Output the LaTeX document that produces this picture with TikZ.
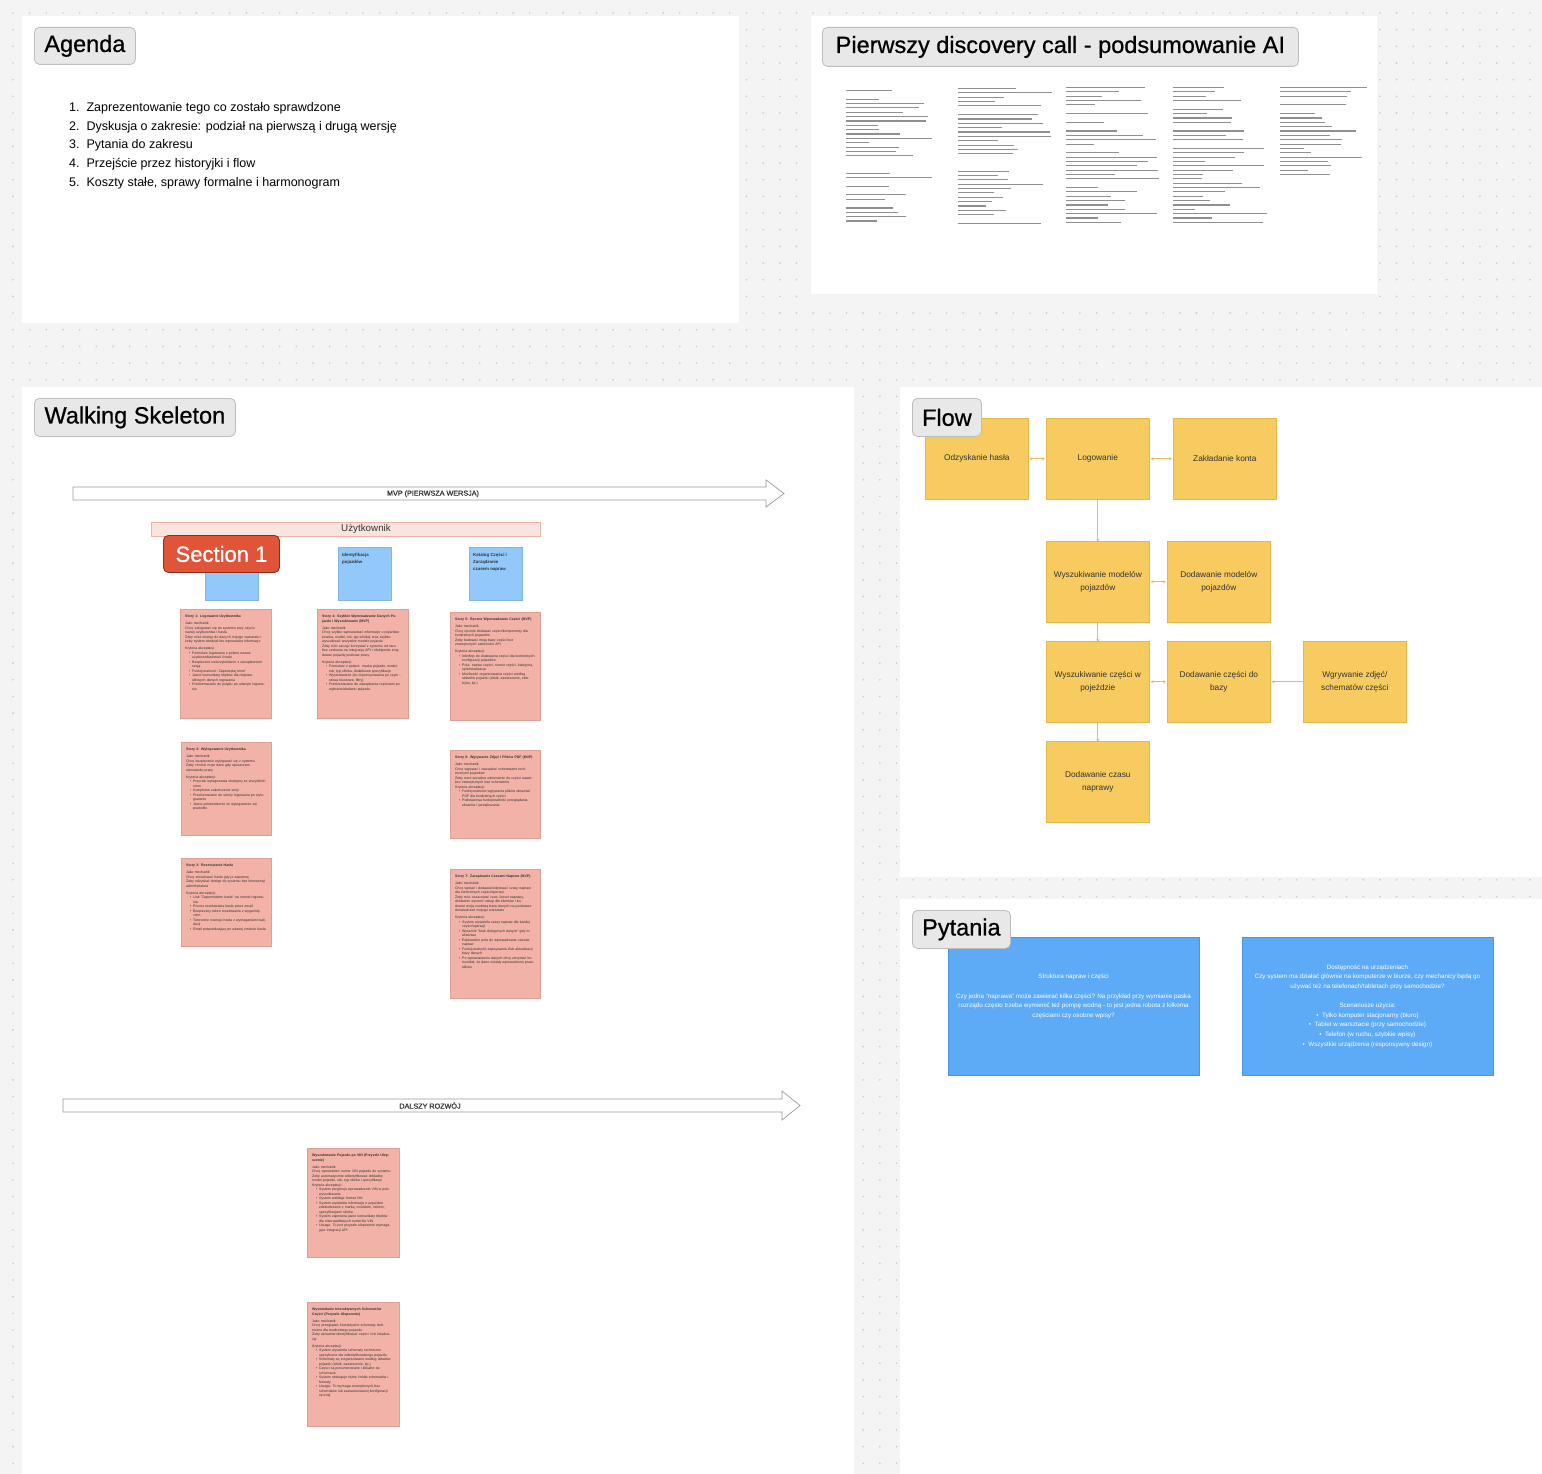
\documentclass[tikz,border=0pt]{standalone}
\usepackage{fontspec}
\setmainfont{Liberation Sans}
\newfontfamily\headfont{Liberation Sans}[FakeBold=0.7]
\usetikzlibrary{arrows.meta}
\setlength\parindent{0pt}
\definecolor{bgc}{HTML}{F4F4F4}
\definecolor{dotc}{HTML}{C8C8C8}
\definecolor{lblfill}{HTML}{E8E8E8}
\definecolor{lbldraw}{HTML}{BDBDBD}
\definecolor{pinkc}{HTML}{F3B2A7}
\definecolor{pinkbar}{HTML}{FAE4DE}
\definecolor{pinkbard}{HTML}{EFB3A5}
\definecolor{bluest}{HTML}{93C8FA}
\definecolor{secred}{HTML}{E0553A}
\definecolor{secredd}{HTML}{8B2C1C}
\definecolor{yel}{HTML}{F7CB60}
\definecolor{yeld}{HTML}{E6B74C}
\definecolor{yconn}{HTML}{E3BC62}
\definecolor{qblue}{HTML}{5DAAF6}
\definecolor{qblued}{HTML}{4A95E3}
\definecolor{arrc}{HTML}{9A9A9A}
\definecolor{discc}{HTML}{909090}
\definecolor{txt}{HTML}{333333}
\newcommand\bi[1]{{\leftskip=7pt\noindent\llap{\textbullet\hspace{1.8pt}}#1\par}}
\newcommand\stickytitle[1]{\textbf{#1}\par\vspace{2.6pt}}
\newcommand\gap{\par\vspace{2.6pt}}
\newcommand\dotsreg[4]{%
  \foreach \i in {#1,...,#2} {\foreach \j in {#3,...,#4} {
    \fill[dotc] (13+\i*16.67, 13+\j*16.67) circle[radius=0.9pt];}}}
\begin{document}
\begin{tikzpicture}[x=1pt,y=-1pt,
  lbl/.style={draw=lbldraw, fill=lblfill, rounded corners=5pt, line width=0.8pt,
    font=\headfont\fontsize{23.5}{28}\selectfont, inner sep=0pt, anchor=north west, text=black},
  agitem/.style={anchor=west, font=\fontsize{12.5}{15}\selectfont, inner sep=0pt},
  pinkbox/.style={fill=pinkc, draw=pinkc!90!black, line width=0.3pt, anchor=north west, inner sep=0pt},
  stxt/.style={anchor=north west, inner sep=0pt, text width=80pt, align=left, text=txt,
    font=\fontsize{3.5}{4.5}\selectfont},
  bluebox/.style={fill=bluest, draw=bluest!90!black, line width=0.3pt, anchor=north west, inner sep=0pt,
    minimum width=53pt, minimum height=53pt},
  btxt/.style={anchor=north west, inner sep=0pt, align=left, text=txt, font=\fontsize{4.4}{7.2}\selectfont\bfseries},
  ybox/.style={fill=yel, draw=yeld, line width=0.6pt, anchor=north west, inner sep=0pt,
    minimum width=103pt, minimum height=81pt, align=center, text=txt,
    font=\fontsize{8.3}{12.8}\selectfont},
  fconn/.style={draw=yconn, line width=0.7pt},
  qbox/.style={fill=qblue, draw=qblued, line width=0.6pt, anchor=north west, inner sep=0pt,
    minimum width=251pt, minimum height=138pt},
  qtxt/.style={anchor=north, inner sep=0pt, align=center, text=white,
    font=\fontsize{6.3}{9.6}\selectfont},
  bigarr/.style={draw=arrc, fill=white, line width=0.7pt, line join=miter},
  arrtxt/.style={inner sep=0pt, font=\headfont\fontsize{7.2}{9}\selectfont, text=txt}
]
\useasboundingbox (0,0) rectangle (1542,1474);
\fill[bgc] (0,0) rectangle (1542,1474);
% dot grid, only where the background shows
\dotsreg{0}{92}{0}{0}
\dotsreg{0}{0}{1}{88}
\dotsreg{44}{47}{1}{22}
\dotsreg{82}{92}{1}{22}
\dotsreg{48}{81}{18}{22}
\dotsreg{1}{43}{19}{22}
\dotsreg{51}{53}{23}{88}
\dotsreg{54}{92}{52}{53}
% panels
\fill[white] (22,16) rectangle (739,323);
\fill[white] (811,16) rectangle (1377,294);
\fill[white] (22,387) rectangle (854,1474);
\fill[white] (900,387) rectangle (1542,877);
\fill[white] (900,899) rectangle (1542,1474);

% ---------------- Agenda
\node[lbl, minimum width=101pt, minimum height=37pt] (agendaT) at (34,27) {Agenda};
\node[agitem] (ag1) at (69,108) {1.\ \ Zaprezentowanie tego co zostało sprawdzone};
\node[agitem] (ag2) at (69,127) {2.\ \ Dyskusja o zakresie: podział na pierwszą i drugą wersję};
\node[agitem] (ag3) at (69,145.5) {3.\ \ Pytania do zakresu};
\node[agitem] (ag4) at (69,164) {4.\ \ Przejście przez historyjki i flow};
\node[agitem] (ag5) at (69,183) {5.\ \ Koszty stałe, sprawy formalne i harmonogram};

% ---------------- Discovery
\node[lbl, minimum width=476pt, minimum height=39pt] (discT) at (822,27) {Pierwszy discovery call - podsumowanie AI};
\pgfmathsetseed{42}
\foreach \cx/\ys/\nn in {846/90/31, 958/88/32, 1066/87/32, 1173/87/32, 1280/87/21} {
  \foreach \k in {1,...,\nn} {
    \pgfmathsetmacro{\r}{rnd}
    \pgfmathsetmacro{\len}{22+72*rnd}
    \ifdim\r pt>0.13pt
      \fill[discc] (\cx,\ys+\k*4.35-4.35) rectangle ++(\len,1.1);
    \fi
  }
}

% ---------------- Walking Skeleton
\node[lbl, minimum width=201pt, minimum height=38pt] (wsT) at (34,398) {Walking Skeleton};
\path[bigarr] (73,487) -- (766,487) -- (766,480) -- (784,493.5) -- (766,507) -- (766,500) -- (73,500) -- cycle;
\node[arrtxt] (mvp) at (433,493.8) {MVP (PIERWSZA WERSJA)};
\node[fill=pinkbar, draw=pinkbard, line width=0.6pt, anchor=north west, minimum width=389pt, minimum height=14pt,
  inner sep=0pt] (uzyt) at (151,522) {};
\node[inner sep=0pt, font=\fontsize{9.8}{11}\selectfont, text=txt] (uzytt) at (366,529) {Użytkownik};

\node[bluebox] (b1) at (205,547) {};
\node[btxt] (b1t) at (209,553) {Zarządzanie\\kontami\\użytkowników};
\node[bluebox] (b2) at (338,547) {};
\node[btxt] (b2t) at (342,553) {Identyfikacja\\pojazdów};
\node[bluebox] (b3) at (469,547) {};
\node[btxt] (b3t) at (473,553) {Katalog Części i\\Zarządzanie\\czasem napraw};

\node[fill=secred, draw=secredd, line width=0.9pt, rounded corners=5pt, anchor=north west,
  minimum width=116pt, minimum height=37pt, inner sep=0pt, text=white,
  font=\headfont\fontsize{22}{26}\selectfont] (sec1) at (163,535) {Section 1};

% Story 1
\node[pinkbox, minimum width=91pt, minimum height=109pt] (s1) at (180,609) {};
\node[stxt] (s1t) at (185,615) {\stickytitle{Story 1: Logowanie Użytkownika}
Jako mechanik\par Chcę zalogować się do systemu przy użyciu nazwy użytkownika i hasła\par
Żeby mieć dostęp do danych mojego warsztatu i żeby system wiedział kto wprowadza informacje\gap
Kryteria akceptacji:\par
\bi{Formularz logowania z polami nazwa użytkownika/email i hasło}
\bi{Bezpieczne uwierzytelnianie z zarządzaniem sesją}
\bi{Funkcjonalność "Zapamiętaj mnie"}
\bi{Jasne komunikaty błędów dla nieprawidłowych danych logowania}
\bi{Przekierowanie do pulpitu po udanym logowaniu}};
% Story 4
\node[pinkbox, minimum width=91pt, minimum height=109pt] (s4) at (317,609) {};
\node[stxt] (s4t) at (322,615) {\stickytitle{Story 4: Szybkie Wprowadzanie Danych Pojazdu i Wyszukiwanie (MVP)}
Jako mechanik\par Chcę szybko wprowadzać informacje o pojeździe (marka, model, rok, typ silnika) oraz szybko wyszukiwać wszystkie modele pojazdu\par
Żeby móc zacząć korzystać z systemu od razu bez czekania na integrację API i efektywnie znajdować pojazdy podczas pracy\gap
Kryteria akceptacji:\par
\bi{Formularz z polami: marka pojazdu, model, rok, typ silnika, dodatkowe specyfikacje}
\bi{Wyszukiwanie (do doprecyzowania po czym - słowa kluczowe, filtry)}
\bi{Przekierowanie do zarządzania częściami po wybraniu/dodaniu pojazdu}};
% Story 5
\node[pinkbox, minimum width=90pt, minimum height=108pt] (s5) at (450,612) {};
\node[stxt] (s5t) at (455,618) {\stickytitle{Story 5: Ręczne Wprowadzanie Części (MVP)}
Jako mechanik\par Chcę ręcznie dodawać części/komponenty dla konkretnych pojazdów\par
Żeby budować moją bazę części bez zewnętrznych zależności API\gap
Kryteria akceptacji:\par
\bi{Interfejs do dodawania części dla konkretnych konfiguracji pojazdów}
\bi{Pola: nazwa części, numer części, kategoria, opis/lokalizacja}
\bi{Możliwość organizowania części według układów pojazdu (silnik, zawieszenie, elektryka, itp.)}};
% Story 2
\node[pinkbox, minimum width=90pt, minimum height=93pt] (s2) at (181,742) {};
\node[stxt] (s2t) at (186,748) {\stickytitle{Story 2: Wylogowanie Użytkownika}
Jako mechanik\par Chcę bezpiecznie wylogować się z systemu\par
Żeby chronić moje dane gdy opuszczam stanowisko pracy\gap
Kryteria akceptacji:\par
\bi{Przycisk wylogowania dostępny ze wszystkich stron}
\bi{Kompletne zakończenie sesji}
\bi{Przekierowanie do strony logowania po wylogowaniu}
\bi{Jasne potwierdzenie że wylogowanie się powiodło}};
% Story 6
\node[pinkbox, minimum width=90pt, minimum height=88pt] (s6) at (450,750) {};
\node[stxt] (s6t) at (455,756) {\stickytitle{Story 6: Wgrywanie Zdjęć i Plików PDF (MVP)}
Jako mechanik\par Chcę wgrywać i zarządzać schematami technicznymi pojazdów\par
Żeby mieć wizualne odniesienie do części nawet bez zewnętrznych baz schematów\par
Kryteria akceptacji:\par
\bi{Funkcjonalność wgrywania plików obrazów/ PDF dla konkretnych części}
\bi{Podstawowa funkcjonalność przeglądania obrazów i powiększania}};
% Story 3
\node[pinkbox, minimum width=90pt, minimum height=88pt] (s3) at (181,858) {};
\node[stxt] (s3t) at (186,864) {\stickytitle{Story 3: Resetowanie Hasła}
Jako mechanik\par Chcę zresetować hasło gdy je zapomnę\par
Żeby odzyskać dostęp do systemu bez interwencji administratora\gap
Kryteria akceptacji:\par
\bi{Link "Zapomniałem hasła" na stronie logowania}
\bi{Proces resetowania hasła przez email}
\bi{Bezpieczny token resetowania z wygaśnięciem}
\bi{Tworzenie nowego hasła z wymaganiami walidacji}
\bi{Email potwierdzający po udanej zmianie hasła}};
% Story 7
\node[pinkbox, minimum width=90pt, minimum height=129pt] (s7) at (450,869) {};
\node[stxt] (s7t) at (455,875) {\stickytitle{Story 7: Zarządzanie Czasami Napraw (MVP)}
Jako mechanik\par Chcę wpisać i dodawać/edytować czasy napraw dla konkretnych części/operacji\par
Żeby móc oszacować czas i koszt naprawy, dokładnie wycenić usługi dla klientów i budować moją osobistą bazę danych na podstawie doświadczeń mojego warsztatu\gap
Kryteria akceptacji:\par
\bi{System wyświetla czasy napraw dla każdej części/operacji}
\bi{Wyraźnie "brak dostępnych danych" gdy to właściwe}
\bi{Edytowalne pola do wprowadzania czasów napraw}
\bi{Funkcjonalność zapisywania i/lub aktualizacji bazy danych}
\bi{Po wprowadzeniu danych chcę otrzymać komunikat, że dane zostały wprowadzone prawidłowo}};

% DALSZY ROZWOJ arrow
\path[bigarr] (63,1099) -- (782,1099) -- (782,1091) -- (800,1105.5) -- (782,1120) -- (782,1112) -- (63,1112) -- cycle;
\node[arrtxt] (dalszy) at (430,1105.5) {DALSZY ROZWÓJ};

% Future stories
\node[pinkbox, minimum width=92pt, minimum height=109pt] (f1) at (307,1148) {};
\node[stxt] (f1t) at (312,1154) {\stickytitle{Wyszukiwanie Pojazdu po VIN (Przyszłe Ulepszenie)}
Jako mechanik\par Chcę wprowadzić numer VIN pojazdu do systemu\par
Żeby automatycznie zidentyfikować dokładny model pojazdu, rok, typ silnika i specyfikacje\par
Kryteria akceptacji:\par
\bi{System przyjmuje wprowadzenie VIN w polu wyszukiwania}
\bi{System waliduje format VIN}
\bi{System wyświetla informacje o pojeździe zdekodowane z marką, modelem, rokiem, specyfikacjami silnika}
\bi{System zapewnia jasne komunikaty błędów dla nieprawidłowych numerów VIN}
\bi{Uwaga: To jest przyszłe ulepszenie wymagające integracji API}};
\node[pinkbox, minimum width=92pt, minimum height=124pt] (f2) at (307,1302) {};
\node[stxt] (f2t) at (312,1308) {\stickytitle{Wyświetlanie Interaktywnych Schematów Części (Przyszłe Ulepszenie)}
Jako mechanik\par Chcę przeglądać interaktywne schematy techniczne dla konkretnego pojazdu\par
Żeby wizualnie identyfikować części i ich lokalizację\gap
Kryteria akceptacji:\par
\bi{System wyświetla schematy techniczne specyficzne dla zidentyfikowanego pojazdu}
\bi{Schematy są zorganizowane według układów pojazdu (silnik, zawieszenie, itp.)}
\bi{Części są ponumerowane i klikalne na schemacie}
\bi{System obsługuje różne źródła schematów i formaty}
\bi{Uwaga: To wymaga zewnętrznych baz schematów lub zaawansowanej konfiguracji ręcznej}};

% ---------------- Flow
\node[ybox] (odz) at (925,418) {Odzyskanie hasła};
\node[ybox] (log) at (1046,418) {Logowanie};
\node[ybox] (zak) at (1173,418) {Zakładanie konta};
\node[ybox] (wmod) at (1046,541) {Wyszukiwanie modelów\\pojazdów};
\node[ybox] (dmod) at (1167,541) {Dodawanie modelów\\pojazdów};
\node[ybox] (wcz) at (1046,641) {Wyszukiwanie części w\\pojeździe};
\node[ybox] (dcz) at (1167,641) {Dodawanie części do\\bazy};
\node[ybox] (wgr) at (1303,641) {Wgrywanie zdjęć/\\schematów części};
\node[ybox] (dczas) at (1046,741) {Dodawanie czasu\\naprawy};
\node[lbl, minimum width=69pt, minimum height=38pt] (flowT) at (912,398) {Flow};
\tikzset{ftip/.tip={Stealth[length=3pt,width=3.2pt]}}
\draw[fconn, {ftip}-{ftip}] ([xshift=1pt]odz.east) -- ([xshift=-1pt]log.west);
\draw[fconn, {ftip}-{ftip}] ([xshift=1pt]log.east) -- ([xshift=-1pt]zak.west);
\draw[fconn, -{ftip}] (log.south) -- ([yshift=-1pt]wmod.north);
\draw[fconn, {ftip}-{ftip}] ([xshift=1pt]wmod.east) -- ([xshift=-1pt]dmod.west);
\draw[fconn, -{ftip}] (wmod.south) -- ([yshift=-1pt]wcz.north);
\draw[fconn, {ftip}-{ftip}] ([xshift=1pt]wcz.east) -- ([xshift=-1pt]dcz.west);
\draw[fconn, -{ftip}] (wgr.west) -- ([xshift=1pt]dcz.east);
\draw[fconn, -{ftip}] (wcz.south) -- ([yshift=-1pt]dczas.north);

% ---------------- Pytania
\node[qbox] (q1) at (948,937) {};
\node[qbox] (q2) at (1242,937) {};
\node[qtxt] (q1t) at (1073.5,974) {Struktura napraw i części\\[9.6pt]
Czy jedna "naprawa" może zawierać kilka części? Na przykład przy wymianie paska\\
rozrządu często trzeba wymienić też pompę wodną - to jest jedna robota z kilkoma\\
częściami czy osobne wpisy?};
\node[qtxt] (q2t) at (1367.5,964.5) {Dostępność na urządzeniach\\
Czy system ma działać głównie na komputerze w biurze, czy mechanicy będą go\\
używać też na telefonach/tabletach przy samochodzie?\\[9.6pt]
Scenariusze użycia:\\
\textbullet\ \ Tylko komputer stacjonarny (biuro)\\
\textbullet\ \ Tablet w warsztacie (przy samochodzie)\\
\textbullet\ \ Telefon (w ruchu, szybkie wpisy)\\
\textbullet\ \ Wszystkie urządzenia (responsywny design)};
\node[lbl, minimum width=98pt, minimum height=38pt] (pytT) at (912,910) {Pytania};
\end{tikzpicture}
\end{document}
